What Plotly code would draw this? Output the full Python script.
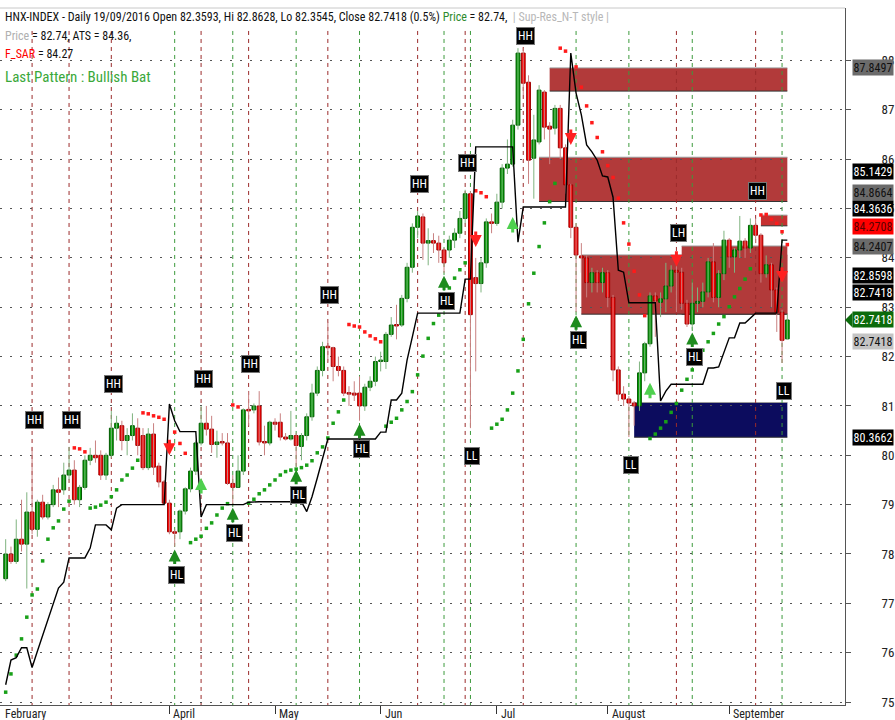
import plotly.graph_objects as go

# ---------------- data ----------------
opens = [77.50, 78.00, 77.85, 78.30, 78.20, 78.85, 78.50, 79.05, 78.75, 79.00,
         79.30, 79.30, 79.60, 79.70, 79.10, 79.35, 79.90, 80.00, 80.00, 79.60,
         80.00, 80.55, 80.60, 80.30, 80.40, 80.55, 80.40, 79.75, 80.43, 79.78,
         79.46, 79.03, 78.45, 78.45, 78.87, 79.32, 79.68, 80.25, 80.65, 80.53,
         80.22, 80.27, 80.25, 79.43, 79.35, 79.68, 80.92, 80.92, 81.00, 80.27,
         80.25, 80.67, 80.67, 80.37, 80.33, 80.40, 80.18, 80.40, 80.78, 81.26,
         81.72, 82.20, 82.18, 81.80, 81.72, 81.26, 81.26, 81.26, 81.00, 81.38,
         81.50, 81.90, 81.90, 82.45, 82.64, 82.64, 83.18, 83.81, 84.62, 84.83,
         84.30, 84.35, 84.30, 84.16, 84.16, 84.36, 84.50, 84.80, 85.30, 83.60,
         83.48, 83.90, 84.73, 84.70, 85.13, 85.82, 85.90, 86.69, 88.15, 87.56,
         86.02, 86.35, 87.36, 86.67, 86.63, 87.03, 86.23, 85.48, 84.62, 84.04,
         84.00, 83.50, 83.70, 83.50, 83.70, 83.20, 81.73, 81.24, 81.14, 81.06,
         81.00, 81.67, 82.26, 83.23, 83.10, 83.17, 83.43, 83.75, 83.71, 83.08,
         82.66, 83.08, 83.12, 83.31, 83.92, 83.20, 83.68, 84.36, 84.02, 84.16,
         84.34, 84.20, 84.66, 84.46, 83.68, 83.86, 83.35, 82.90, 82.3593]
highs = [78.30, 78.15, 78.70, 79.10, 79.25, 80.17, 79.10, 79.20, 79.05, 79.40,
         79.55, 79.85, 80.17, 79.90, 79.40, 80.00, 80.15, 80.30, 80.10, 80.05,
         80.90, 80.80, 80.70, 80.55, 80.85, 80.75, 80.55, 80.55, 80.65, 79.85,
         79.50, 79.10, 78.50, 78.90, 79.35, 79.75, 80.30, 81.00, 81.00, 80.80,
         80.50, 80.45, 80.45, 79.60, 80.00, 80.95, 81.30, 81.05, 81.30, 80.60,
         80.70, 80.75, 80.85, 80.45, 80.90, 80.45, 80.45, 80.85, 81.45, 81.80,
         82.30, 82.70, 82.20, 82.00, 81.80, 81.40, 81.50, 81.60, 81.45, 81.60,
         82.00, 82.10, 82.50, 82.80, 83.05, 83.25, 83.90, 84.70, 84.95, 84.90,
         84.60, 84.50, 84.45, 84.20, 84.45, 84.60, 84.95, 85.38, 85.35, 84.00,
         84.00, 84.80, 84.90, 85.30, 85.90, 86.40, 86.80, 88.25, 88.25, 87.70,
         86.90, 87.50, 87.40, 86.75, 87.10, 87.10, 86.30, 85.50, 84.70, 84.30,
         84.05, 83.80, 83.75, 83.80, 83.75, 83.25, 81.80, 81.40, 81.20, 81.10,
         81.90, 82.30, 83.30, 83.30, 83.30, 83.90, 83.85, 83.95, 83.80, 83.15,
         83.50, 83.40, 83.50, 84.00, 84.30, 83.75, 84.55, 84.40, 84.20, 84.85,
         84.40, 84.80, 84.80, 84.50, 84.05, 83.90, 83.40, 82.95, 82.8628]
lows = [77.45, 77.80, 77.80, 78.05, 77.30, 78.40, 78.35, 78.70, 78.70, 78.95,
        78.95, 79.20, 79.50, 79.00, 78.95, 79.30, 79.80, 79.85, 79.50, 79.50,
        79.95, 80.30, 80.10, 80.00, 80.30, 80.00, 79.70, 79.70, 79.60, 79.35,
        79.00, 78.40, 78.15, 78.30, 78.80, 79.25, 79.60, 80.20, 80.40, 80.05,
        79.95, 80.20, 79.40, 79.00, 79.35, 79.60, 80.60, 80.85, 80.20, 80.00,
        80.20, 80.50, 80.30, 80.30, 80.30, 79.77, 79.90, 80.30, 80.70, 81.20,
        81.60, 81.90, 81.50, 81.60, 81.20, 81.00, 81.10, 80.70, 80.90, 81.30,
        81.40, 81.70, 81.75, 82.40, 82.35, 82.60, 83.10, 83.70, 84.40, 83.96,
        83.85, 84.10, 83.90, 83.70, 84.00, 84.20, 84.40, 84.70, 80.55, 81.70,
        83.30, 83.80, 84.50, 84.65, 85.00, 85.70, 85.85, 86.60, 87.30, 85.50,
        85.20, 86.30, 86.40, 85.90, 86.50, 86.00, 85.30, 84.40, 82.90, 83.70,
        83.20, 83.30, 83.30, 83.30, 83.00, 81.50, 81.10, 81.00, 80.37, 80.60,
        80.90, 81.50, 82.20, 82.40, 82.80, 82.90, 83.30, 82.90, 82.95, 82.60,
        82.55, 82.90, 83.00, 83.20, 83.10, 83.00, 83.55, 83.80, 83.70, 84.00,
        84.00, 84.10, 84.30, 83.50, 83.60, 83.00, 82.50, 81.87, 82.3545]
closes = [78.00, 77.85, 78.30, 78.20, 78.85, 78.50, 79.05, 78.75, 79.00, 79.30,
          79.25, 79.60, 79.70, 79.10, 79.35, 79.90, 80.00, 79.95, 79.60, 80.00,
          80.55, 80.65, 80.30, 80.40, 80.60, 80.20, 79.75, 80.43, 79.76, 79.46,
          79.03, 78.45, 78.42, 78.87, 79.32, 79.68, 80.25, 80.65, 80.53, 80.22,
          80.27, 80.25, 79.43, 79.35, 79.68, 80.92, 80.90, 81.00, 80.27, 80.25,
          80.67, 80.63, 80.37, 80.33, 80.40, 80.20, 80.40, 80.78, 81.26, 81.72,
          82.20, 82.18, 81.80, 81.72, 81.26, 81.24, 81.22, 81.00, 81.38, 81.50,
          81.90, 81.92, 82.45, 82.64, 82.62, 83.18, 83.81, 84.62, 84.85, 84.30,
          84.35, 84.30, 84.16, 83.90, 84.36, 84.50, 84.80, 85.30, 82.85, 83.48,
          83.90, 84.73, 84.70, 85.13, 85.82, 85.90, 86.69, 88.15, 87.54, 85.98,
          86.39, 87.40, 86.65, 86.61, 87.03, 86.23, 85.48, 84.62, 84.06, 84.00,
          83.50, 83.70, 83.50, 83.70, 83.20, 81.73, 81.24, 81.14, 81.06, 81.00,
          81.67, 82.26, 83.23, 83.13, 83.17, 83.43, 83.75, 83.71, 83.08, 82.66,
          83.08, 83.12, 83.31, 83.92, 83.20, 83.68, 84.36, 84.02, 84.16, 84.34,
          84.20, 84.66, 84.46, 83.68, 83.86, 83.35, 82.90, 82.33, 82.7418]

ats = ([75.35, 75.85, 75.90, 76.10, 76.10, 75.70, 76.03, 76.36, 76.66, 77.00,
        77.31, 77.43, 77.92, 77.92, 77.92, 77.92, 78.12, 78.59, 78.59, 78.59,
        78.49, 78.93] + [79.00] * 9 +
       [81.04, 80.70, 80.48, 80.48, 80.48, 80.48, 78.75] + [79.00] * 8 +
       [79.05] + [79.06] * 10 + [78.86, 79.16, 79.54, 79.93] + [80.33] * 10 +
       [80.47, 80.47, 81.12, 81.12, 81.26, 81.93, 82.40] + [82.88] * 9 +
       [83.57, 83.57] + [86.25] * 8 + [84.32] + [85.03] * 9 +
       [88.15, 87.34, 86.90, 86.29, 86.15, 85.98, 85.66, 85.64, 85.23, 83.75,
        83.71] + [83.09] * 6 + [81.10, 81.30] + [81.44] * 7 +
       [81.77, 81.77, 81.79, 82.09, 82.38, 82.38, 82.68, 82.68, 82.78] +
       [82.88] * 5 + [84.36, 84.36])

sar_up_idx = list(range(0, 13)) + list(range(16, 26)) + list(range(35, 43)) + \
    list(range(46, 65)) + list(range(72, 88)) + list(range(92, 105)) + list(range(122, 142))
sar_up_val = [75.20, 75.57, 75.95, 76.28, 76.72, 77.17, 77.29, 77.86, 78.30, 78.53, 78.67, 78.91, 79.07,
              78.93, 78.95, 78.99, 79.05, 79.16, 79.30, 79.50, 79.60, 79.74, 79.90,
              78.23, 78.30, 78.36, 78.52, 78.63, 78.79, 78.93, 79.02,
              79.03, 79.11, 79.22, 79.30, 79.40, 79.50, 79.60, 79.67, 79.70, 79.72,
              79.75, 79.80, 79.89, 80.05, 80.17, 80.35, 80.65, 80.88, 81.12,
              80.59, 80.67, 80.75, 80.92, 81.09, 81.29, 81.63, 82.01, 82.37, 82.67,
              82.84, 83.15, 83.39, 83.59, 83.76, 83.90,
              80.55, 80.63, 80.73, 80.92, 81.26, 81.71, 82.35, 83.07, 83.69, 84.23,
              84.71, 85.14, 85.51,
              80.34, 80.43, 80.55, 80.68, 80.87, 81.05, 81.32, 81.54, 81.73, 81.90,
              82.13, 82.30, 82.47, 82.66, 82.81, 83.01, 83.21, 83.38, 83.57, 83.78]
sar_dn_idx = [13, 14, 15, 26, 27, 28, 29, 30, 32, 33, 34, 43, 44,
              65, 66, 67, 68, 69, 70, 71, 89, 90, 91,
              105, 106, 108, 109, 110, 111, 112, 113, 114, 115, 116, 117, 118, 119, 120, 121,
              143, 144, 145, 146, 147, 148]
sar_dn_val = [80.15, 80.13, 80.07, 80.86, 80.84, 80.80, 80.77, 80.73, 80.47, 80.24, 80.04, 81.02, 80.98,
              82.65, 82.62, 82.60, 82.50, 82.42, 82.36, 82.30, 85.36, 85.32, 85.24,
              88.25, 88.19, 87.87, 87.46, 87.08, 86.74, 86.44, 86.15, 85.87, 85.63, 85.21, 84.71,
              84.28, 83.73, 83.25, 82.83,
              84.87, 84.88, 84.78, 84.70, 84.53, 84.27]

swing_idx = [5, 12, 20, 32, 37, 43, 46, 55, 61, 67, 78, 83, 87, 88, 98, 108, 118, 127, 130, 142, 147]
swing_txt = ["HH", "HH", "HH", "HL", "HH", "HL", "HH", "HL", "HH", "HL", "HH",
             "HL", "HH", "LL", "HH", "HL", "LL", "LH", "HL", "HH", "LL"]

buy_idx = [37, 96, 122]
buy_px = [79.54, 84.83, 81.47]
sell_idx = [31, 89, 107, 127, 147]
sell_px = [80.00, 84.22, 86.29, 83.82, 83.49]

zone_x0 = [103, 101, 109, 128, 143, 119]
zone_x1 = [148, 148, 148, 148, 148, 148]
zone_lo = [87.38, 85.1429, 82.8598, 82.8598, 84.65, 80.3662]
zone_hi = [87.8497, 86.04, 84.06, 84.2407, 84.8664, 81.07]
zone_kind = ["res", "res", "res", "res", "res2", "sup"]

level_vals = [87.8497, 85.1429, 84.8664, 84.3636, 84.2708, 84.2407,
              82.8598, 82.7418, 82.7418, 82.7418, 80.3662]
level_kind = ["gray", "black", "gray", "black", "red", "gray",
              "black", "black", "green", "light", "black"]

price_ticks = list(range(75, 89))
month_names = ["February", "April", "May", "Jun", "Jul", "August", "September"]
month_bar = [0, 31, 51, 71, 93, 114, 137]

# ---------------- figure ----------------
FONT = "Liberation Sans Narrow, Arial Narrow, Roboto Condensed, Liberation Sans, Arial, sans-serif"
n = len(closes)
X = list(range(n))
fig = go.Figure()
shapes = []
annotations = []

# zones
zcol = {"res": "#b23a3a", "res2": "#c63030", "sup": "#0c0c5e"}
for x0, x1, lo, hi, k in zip(zone_x0, zone_x1, zone_lo, zone_hi, zone_kind):
    shapes.append(dict(type="rect", xref="x", yref="y", x0=x0, x1=x1, y0=lo, y1=hi,
                       fillcolor=zcol[k], line=dict(width=0), layer="below"))
    shapes.append(dict(type="line", xref="x", yref="y", x0=x0, x1=x1, y0=lo, y1=lo,
                       line=dict(color="#333333", width=1), layer="below"))
    shapes.append(dict(type="line", xref="x", yref="y", x0=x0, x1=x1, y0=hi, y1=hi,
                       line=dict(color="#9a9a9a", width=1), layer="below"))

# swing vertical lines
for i, t in zip(swing_idx, swing_txt):
    col = "#9b2b2b" if t[1] == "H" else "#3c9a3c"
    shapes.append(dict(type="line", xref="x", yref="y", x0=i, x1=i, y0=74.9, y1=88.62,
                       line=dict(color=col, width=1, dash="4px,4px"), layer="below"))

# top border
shapes.append(dict(type="line", xref="paper", yref="paper", x0=0, x1=1, y0=1, y1=1,
                   line=dict(color="#c8c8c8", width=1)))

# wicks
def wick_xy(sel):
    xs, ys = [], []
    for i in sel:
        xs += [i, i, None]
        ys += [lows[i], highs[i], None]
    return xs, ys

up = [i for i in X if closes[i] >= opens[i]]
dn = [i for i in X if closes[i] < opens[i]]
wx, wy = wick_xy(up)
fig.add_trace(go.Scatter(x=wx, y=wy, mode="lines", line=dict(color="#7fb37f", width=1), showlegend=False))
wx, wy = wick_xy(dn)
fig.add_trace(go.Scatter(x=wx, y=wy, mode="lines", line=dict(color="#c98080", width=1), showlegend=False))

# bodies
fig.add_trace(go.Bar(x=up, base=[opens[i] for i in up],
                     y=[max(closes[i] - opens[i], 0.03) for i in up], width=0.72,
                     marker=dict(color="#00a000", line=dict(color="#005a00", width=1)), showlegend=False))
fig.add_trace(go.Bar(x=dn, base=[closes[i] for i in dn],
                     y=[max(opens[i] - closes[i], 0.03) for i in dn], width=0.72,
                     marker=dict(color="#ff0000", line=dict(color="#a00000", width=1)), showlegend=False))

# SAR
fig.add_trace(go.Scatter(x=sar_up_idx, y=sar_up_val, mode="markers",
                         marker=dict(symbol="square", size=3.5, color="#18a018"), showlegend=False))
fig.add_trace(go.Scatter(x=sar_dn_idx, y=sar_dn_val, mode="markers",
                         marker=dict(symbol="square", size=3.5, color="#ff1a1a"), showlegend=False))

# ATS
fig.add_trace(go.Scatter(x=X, y=ats, mode="lines", line=dict(color="#000000", width=1.4), showlegend=False))

# swing labels and HL arrows
for i, t in zip(swing_idx, swing_txt):
    if t[1] == "H":
        annotations.append(dict(x=i, y=min(highs[i], 87.95), xref="x", yref="y", text=t,
                                showarrow=False, yshift=27, xshift=2,
                                font=dict(family=FONT, size=12, color="#ffffff"),
                                bgcolor="#000000", bordercolor="#777777", borderwidth=1, borderpad=1))
    else:
        annotations.append(dict(x=i, y=lows[i], xref="x", yref="y", text=t,
                                showarrow=False, yshift=-28, xshift=2,
                                font=dict(family=FONT, size=12, color="#ffffff"),
                                bgcolor="#000000", bordercolor="#777777", borderwidth=1, borderpad=1))
        if t == "HL":
            annotations.append(dict(x=i, y=lows[i], xref="x", yref="y", text="", showarrow=True,
                                    ax=0, ay=16, yshift=-3, arrowhead=2, arrowsize=0.8, arrowwidth=3,
                                    arrowcolor="#1e8c1e"))

for i, p in zip(buy_idx, buy_px):
    annotations.append(dict(x=i, y=p, xref="x", yref="y", text="", showarrow=True,
                            ax=0, ay=17, arrowhead=2, arrowsize=0.8, arrowwidth=3, arrowcolor="#4fd04f"))
for i, p in zip(sell_idx, sell_px):
    annotations.append(dict(x=i, y=p, xref="x", yref="y", text="", showarrow=True,
                            ax=0, ay=-17, arrowhead=2, arrowsize=0.8, arrowwidth=3, arrowcolor="#ff2020"))

# right-side level boxes (stacked positions)
lvl_style = {"gray": ("#6b6b6b", "#111111"), "black": ("#000000", "#ffffff"),
             "red": ("#ff0000", "#5a0000"), "green": ("#0b6b0b", "#ffffff"),
             "light": ("#c4c4c4", "#111111")}
lvl_shift = [0, 30, 23, 31, 18, 0, 39, 27.5, 0, -21.5, 0]
for v, k, s in zip(level_vals, level_kind, lvl_shift):
    bg, fg = lvl_style[k]
    annotations.append(dict(x=1, y=v, xref="paper", yref="y", xanchor="left", xshift=7, yshift=s,
                            text=f"{v:.4f}", showarrow=False, width=40, height=15, align="center",
                            font=dict(family=FONT, size=12, color=fg), bgcolor=bg, borderpad=0))
    if k == "green":
        shapes.append(dict(type="path", xref="paper", yref="y",
                           path=f"M 1.0,{v} L {1 + 7.5 / 848},{v + 0.15} L {1 + 7.5 / 848},{v - 0.15} Z",
                           fillcolor=bg, line=dict(width=0)))

# month labels
for name, b in zip(month_names, month_bar):
    annotations.append(dict(x=b, y=0, xref="x", yref="paper", yanchor="top", xanchor="left",
                            xshift=2 if b > 0 else -3, yshift=0, text=name, showarrow=False,
                            font=dict(family=FONT, size=12, color="#222222")))

# title block
title_lines = [
    ("HNX-INDEX - Daily 19/09/2016 Open 82.3593, Hi 82.8628, Lo 82.3545, Close 82.7418 (0.5%) "
     "<span style='color:#2e8b2e'>Price</span> = 82.74,  "
     "<span style='color:#b8b8b8'>| Sup-Res_N-T style |</span>", 0, 12, "#111111"),
    ("<span style='color:#b0b0b0'>Price</span> = 82.74, ATS = 84.36,", -19, 12, "#111111"),
    ("<span style='color:#ff0000'>F_SAR</span> = 84.27", -37, 12, "#111111"),
    ("Last Pattern : Bullish Bat", -58, 15, "#3aa83a"),
]
for txt, ys, sz, col in title_lines:
    annotations.append(dict(x=0, y=1, xref="paper", yref="paper", xanchor="left", yanchor="top",
                            xshift=3, yshift=ys, text=txt, showarrow=False, align="left",
                            font=dict(family=FONT, size=sz, color=col)))

fig.update_layout(
    width=895, height=720,
    margin=dict(l=0, r=47, t=8, b=15),
    paper_bgcolor="#ffffff", plot_bgcolor="#ffffff",
    barmode="overlay", hovermode=False, showlegend=False,
    shapes=shapes, annotations=annotations,
    xaxis=dict(range=[-1.075, 158.92], showgrid=False, zeroline=False,
               tickvals=month_bar[1:], ticks="outside", ticklen=8, tickcolor="#333333",
               showticklabels=False, showline=True, linecolor="#555555", linewidth=1,
               fixedrange=True),
    yaxis=dict(range=[74.94, 89.064], side="right", tickvals=price_ticks,
               ticktext=[str(v) for v in price_ticks], showgrid=True,
               gridcolor="#555555", gridwidth=1, griddash="2px,8px", zeroline=False,
               ticks="outside", ticklen=5, tickcolor="#555555", showline=True,
               linecolor="#555555", linewidth=1, ticklabelstandoff=28,
               tickfont=dict(family=FONT, size=13, color="#222222"), fixedrange=True),
)

fig.write_html("out.html", config={"displayModeBar": False},
               post_script="document.body.style.margin='0';document.body.style.overflow='hidden';")
